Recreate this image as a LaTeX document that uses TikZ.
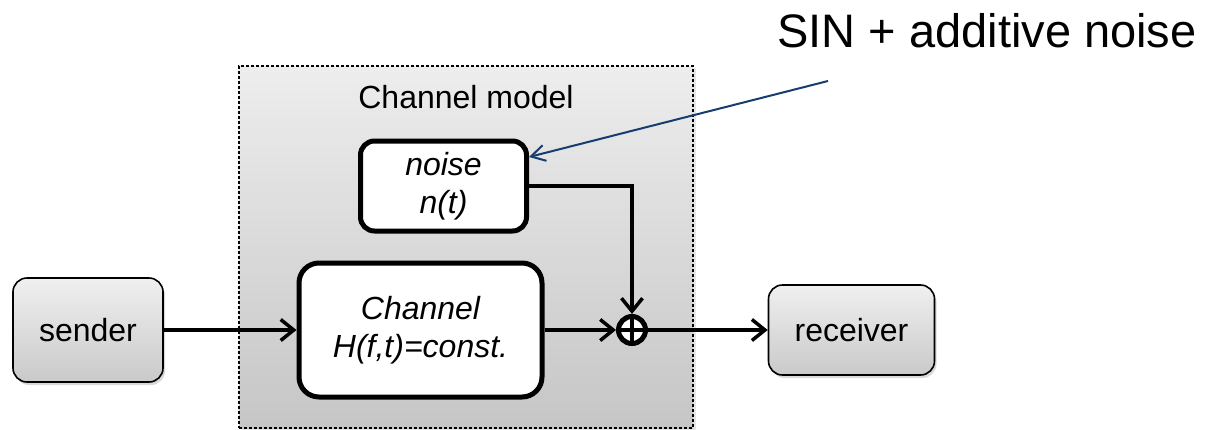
\documentclass[tikz,border=0pt]{standalone}
\usepackage{fontspec}
\setmainfont{Liberation Sans}
\usetikzlibrary{arrows.meta,shadows,calc}
\definecolor{arrowblue}{RGB}{23,60,110}
\tikzset{
  conn/.style={line width=3.5pt,-{Straight Barb[length=13pt,width=21pt]}},
  bluearrow/.style={line width=2pt,draw=arrowblue,-{Straight Barb[length=14pt,width=16pt]}},
  termbox/.style={draw,line width=1.6pt,rounded corners=14pt,shading=axis,top color=gray!12,bottom color=gray!42,
    drop shadow={opacity=0.3,shadow xshift=2pt,shadow yshift=-3pt},font=\fontsize{32}{38}\selectfont},
  innerbox/.style={draw,line width=5pt,fill=white,align=center,font=\fontsize{32}{38}\selectfont\itshape},
  modelbox/.style={draw,dash pattern=on 3pt off 2pt,line width=1.2pt,shading=axis,top color=gray!14,bottom color=gray!45,
    drop shadow={opacity=0.2,shadow xshift=3pt,shadow yshift=-2pt}},
}
\begin{document}
\begin{tikzpicture}[x=1pt,y=-1pt]
\useasboundingbox (0,0) rectangle (1206,429);
\node[modelbox,minimum width=454pt,minimum height=362pt] (cm) at (466,247) {};
\node[font=\fontsize{32}{38}\selectfont] (cmlabel) at (466,97) {Channel model};
\node[innerbox,rounded corners=14pt,minimum width=166pt,minimum height=90pt] (noise) at (443.5,186) {noise\\n(t)};
\node[innerbox,rounded corners=20pt,minimum width=243pt,minimum height=134pt] (chan) at (420.5,330) {Channel\\H(f,t)=const.};
\node[termbox,minimum width=150pt,minimum height=104pt] (sender) at (88,330) {sender};
\node[termbox,minimum width=166pt,minimum height=90pt] (receiver) at (851.5,330) {receiver};
\node[circle,draw,line width=5pt,fill=white,minimum size=27pt,inner sep=0pt] (sum) at (632,330) {};
\draw[line width=3.5pt] (sum.north) -- (sum.south) (sum.west) -- (sum.east);
\node[font=\fontsize{47}{56}\selectfont] (sin) at (987,31) {SIN + additive noise};
\coordinate (src) at (828,81);
\draw[conn] (sender) -- (chan);
\draw[conn] (chan) -- (sum);
\draw[conn] (noise.east) -| (sum.north);
\draw[conn] (sum) -- (receiver);
\draw[bluearrow] (src) -- ($(noise.east)+(0,-29)$);
\end{tikzpicture}
\end{document}
